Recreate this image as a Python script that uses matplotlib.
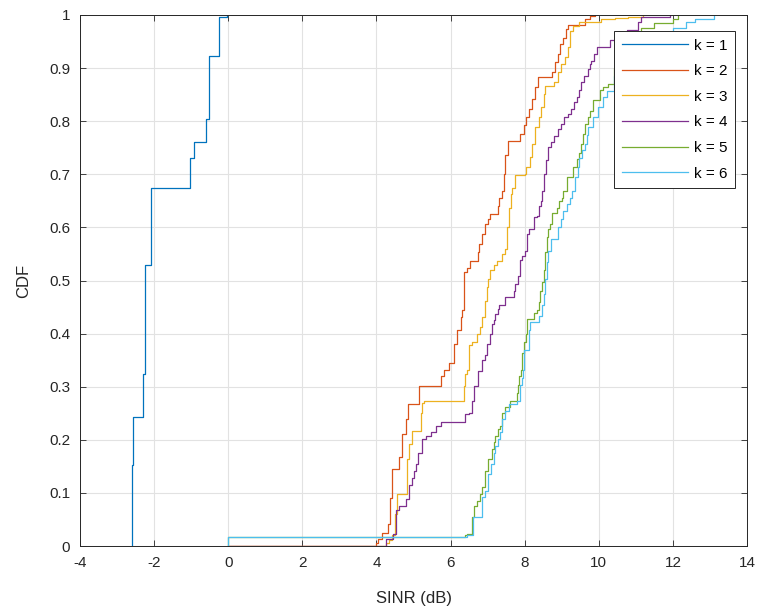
import matplotlib
matplotlib.use('Agg')
import matplotlib.pyplot as plt

plt.rcParams['font.family'] = ['Liberation Sans', 'DejaVu Sans']
plt.rcParams['axes.unicode_minus'] = False

# Empirical CDF breakpoints of SINR (dB) for each k: value of the CDF right after each jump
sinr_k1 = [-2.61, -2.61, -2.56, -2.31, -2.25, -2.08, -1.03, -0.92, -0.61, -0.52, -0.25, -0.02]
cdf_k1 = [0, 0.152, 0.242, 0.323, 0.529, 0.674, 0.730, 0.761, 0.804, 0.922, 0.997, 1.0]

sinr_k2 = [0, 4.00, 4.05, 4.16, 4.31, 4.37, 4.43, 4.60, 4.70, 4.80, 4.85, 5.15, 5.73, 5.82,
           5.97, 6.09, 6.18, 6.27, 6.31, 6.36, 6.44, 6.53, 6.74, 6.77, 6.84, 6.93, 7.02, 7.07,
           7.27, 7.32, 7.38, 7.43, 7.48, 7.55, 7.88, 7.97, 8.04, 8.11, 8.20, 8.29, 8.36, 8.73,
           8.82, 8.89, 8.96, 9.04, 9.11, 9.18, 9.63, 9.76, 9.89]
cdf_k2 = [0, 0.006, 0.014, 0.025, 0.042, 0.090, 0.145, 0.167, 0.210, 0.240, 0.267, 0.301, 0.320,
          0.331, 0.344, 0.381, 0.406, 0.431, 0.444, 0.516, 0.524, 0.537, 0.553, 0.569, 0.587,
          0.606, 0.616, 0.625, 0.641, 0.656, 0.669, 0.700, 0.736, 0.762, 0.776, 0.792, 0.807,
          0.823, 0.842, 0.864, 0.884, 0.892, 0.911, 0.926, 0.945, 0.957, 0.973, 0.982, 0.992,
          0.998, 1.0]

sinr_k3 = [0, 4.27, 4.35, 4.42, 4.49, 4.55, 4.83, 4.89, 4.96, 5.20, 5.24, 5.29, 6.36, 6.40,
           6.44, 6.49, 6.58, 6.71, 6.80, 6.84, 6.93, 6.98, 7.02, 7.07, 7.16, 7.24, 7.38, 7.47,
           7.53, 7.57, 7.62, 7.66, 7.75, 8.00, 8.04, 8.15, 8.20, 8.29, 8.38, 8.45, 8.51, 8.55,
           8.78, 8.91, 8.98, 9.09, 9.16, 9.22, 9.31, 9.46, 10.07, 10.43, 10.79, 11.20]
cdf_k3 = [0, 0.005, 0.012, 0.020, 0.060, 0.097, 0.164, 0.192, 0.217, 0.251, 0.270, 0.274, 0.301,
          0.323, 0.331, 0.378, 0.384, 0.400, 0.412, 0.431, 0.462, 0.487, 0.503, 0.519, 0.530,
          0.537, 0.550, 0.559, 0.600, 0.637, 0.662, 0.675, 0.698, 0.701, 0.714, 0.733, 0.758,
          0.789, 0.807, 0.826, 0.851, 0.867, 0.873, 0.892, 0.908, 0.920, 0.939, 0.970, 0.979,
          0.986, 0.992, 0.994, 0.997, 1.0]

sinr_k4 = [0, 4.27, 4.44, 4.53, 4.62, 4.80, 4.89, 4.96, 5.02, 5.07, 5.11, 5.24, 5.33, 5.47,
           5.60, 5.73, 6.40, 6.49, 6.58, 6.62, 6.74, 6.84, 6.93, 6.98, 7.07, 7.11, 7.16, 7.20,
           7.27, 7.32, 7.48, 7.71, 7.75, 7.82, 7.88, 7.93, 8.02, 8.06, 8.11, 8.26, 8.33, 8.39,
           8.45, 8.48, 8.52, 8.58, 8.62, 8.71, 8.80, 8.89, 8.98, 9.07, 9.16, 9.25, 9.34, 9.41,
           9.47, 9.52, 9.61, 9.70, 9.75, 9.79, 9.88, 9.95, 10.30, 10.45, 10.75, 11.05, 11.14,
           11.92]
cdf_k4 = [0, 0.013, 0.023, 0.067, 0.076, 0.089, 0.114, 0.129, 0.142, 0.154, 0.176, 0.201, 0.207,
          0.214, 0.226, 0.234, 0.248, 0.251, 0.273, 0.301, 0.329, 0.350, 0.359, 0.381, 0.400,
          0.419, 0.425, 0.437, 0.447, 0.453, 0.469, 0.481, 0.494, 0.509, 0.538, 0.547, 0.556,
          0.588, 0.597, 0.619, 0.622, 0.641, 0.650, 0.669, 0.701, 0.726, 0.751, 0.761, 0.773,
          0.786, 0.795, 0.807, 0.814, 0.823, 0.836, 0.845, 0.858, 0.873, 0.886, 0.898, 0.908,
          0.914, 0.926, 0.940, 0.953, 0.962, 0.972, 0.987, 0.996, 1.0]

sinr_k5 = [0, 0, 6.40, 6.44, 6.58, 6.62, 6.71, 6.80, 6.84, 6.93, 7.02, 7.11, 7.16, 7.20, 7.27,
           7.33, 7.38, 7.47, 7.60, 7.78, 7.83, 7.86, 7.89, 7.93, 7.97, 8.04, 8.06, 8.24, 8.33,
           8.38, 8.42, 8.46, 8.51, 8.55, 8.60, 8.64, 8.69, 8.73, 8.87, 8.93, 9.00, 9.04, 9.13,
           9.31, 9.40, 9.46, 9.52, 9.58, 9.63, 9.70, 9.76, 9.85, 10.03, 10.12, 10.25, 10.40,
           10.55, 10.80, 11.15, 11.50, 12.00, 12.15]
cdf_k5 = [0, 0.017, 0.020, 0.023, 0.054, 0.076, 0.085, 0.098, 0.111, 0.142, 0.164, 0.183, 0.195,
          0.208, 0.220, 0.226, 0.251, 0.261, 0.273, 0.289, 0.304, 0.320, 0.331, 0.363, 0.384,
          0.400, 0.428, 0.438, 0.444, 0.459, 0.481, 0.497, 0.519, 0.553, 0.581, 0.597, 0.606,
          0.628, 0.637, 0.650, 0.656, 0.669, 0.695, 0.714, 0.729, 0.740, 0.758, 0.776, 0.795,
          0.807, 0.820, 0.839, 0.858, 0.864, 0.870, 0.900, 0.930, 0.962, 0.975, 0.985, 0.993,
          1.0]

sinr_k6 = [0, 0, 6.44, 6.60, 6.84, 6.93, 7.02, 7.09, 7.16, 7.20, 7.27, 7.33, 7.39, 7.47, 7.58,
           7.78, 7.87, 7.92, 7.96, 7.99, 8.11, 8.15, 8.38, 8.46, 8.51, 8.55, 8.60, 8.64, 8.71,
           8.91, 8.98, 9.04, 9.13, 9.22, 9.29, 9.36, 9.43, 9.47, 9.54, 9.63, 9.67, 9.71, 9.85,
           9.98, 10.12, 10.23, 10.40, 10.70, 11.10, 11.60, 12.00, 12.35, 12.60, 13.10]
cdf_k6 = [0, 0.017, 0.020, 0.054, 0.092, 0.104, 0.136, 0.154, 0.176, 0.189, 0.201, 0.214, 0.239,
          0.254, 0.267, 0.273, 0.304, 0.317, 0.331, 0.369, 0.406, 0.422, 0.434, 0.453, 0.475,
          0.503, 0.534, 0.556, 0.578, 0.600, 0.616, 0.631, 0.644, 0.656, 0.669, 0.695, 0.714,
          0.730, 0.745, 0.758, 0.774, 0.789, 0.807, 0.826, 0.845, 0.857, 0.885, 0.920, 0.945,
          0.965, 0.975, 0.987, 0.993, 1.0]

labels = ['k = 1', 'k = 2', 'k = 3', 'k = 4', 'k = 5', 'k = 6']
x_ticks = [-4, -2, 0, 2, 4, 6, 8, 10, 12, 14]
y_ticks = [0, 0.1, 0.2, 0.3, 0.4, 0.5, 0.6, 0.7, 0.8, 0.9, 1.0]
y_tick_labels = ['0', '0.1', '0.2', '0.3', '0.4', '0.5', '0.6', '0.7', '0.8', '0.9', '1']

# default MATLAB line order colours
colors = ['#0072BD', '#D95319', '#EDB120', '#7E2F8E', '#77AC30', '#4DBEEE']

series = [(sinr_k1, cdf_k1), (sinr_k2, cdf_k2), (sinr_k3, cdf_k3),
          (sinr_k4, cdf_k4), (sinr_k5, cdf_k5), (sinr_k6, cdf_k6)]

fig = plt.figure(figsize=(7.65, 6.14), dpi=100)
ax = fig.add_axes([80 / 765, 68 / 614, 667 / 765, 531 / 614])

for (xs, ys), c, lab in zip(series, colors, labels):
    ax.step(xs, ys, where='post', color=c, linewidth=0.9, label=lab)

ax.set_xlim(-4, 14)
ax.set_ylim(0, 1)
ax.set_xticks(x_ticks)
ax.set_yticks(y_ticks)
ax.set_yticklabels(y_tick_labels)

axis_grey = '#262626'
ax.grid(True, color='#e2e2e2', linewidth=0.8)
ax.set_axisbelow(True)
ax.tick_params(direction='in', length=4, width=0.6, top=True, right=True,
               labelsize=11, colors=axis_grey, pad=7)
for sp in ax.spines.values():
    sp.set_color(axis_grey)
    sp.set_linewidth(0.7)

ax.set_xlabel('SINR (dB)', fontsize=12, color=axis_grey, labelpad=15)
ax.set_ylabel('CDF', fontsize=12, color=axis_grey, labelpad=13)

leg = ax.legend(loc='upper right', bbox_to_anchor=(0.982, 0.970), borderaxespad=0,
                fontsize=11, handlelength=4.3, handletextpad=0.4, labelspacing=0.76,
                borderpad=0.5, fancybox=False, framealpha=1, edgecolor=axis_grey)
leg.get_frame().set_linewidth(0.7)

fig.savefig('out.png', dpi=100)
